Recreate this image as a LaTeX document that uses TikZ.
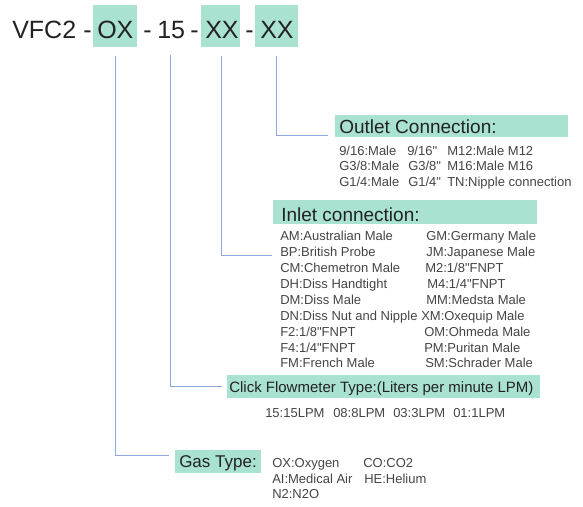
\documentclass[tikz,border=0pt]{standalone}
\usepackage{fontspec}
\setmainfont{Liberation Sans}[Ligatures=TeXOff]
\definecolor{mint}{HTML}{A9E2D1}
\definecolor{connc}{HTML}{8EA8D8}
\definecolor{txt}{HTML}{222222}
\definecolor{smalltxt}{HTML}{444444}
\tikzset{
 box/.style={fill=mint, draw=none, inner sep=0, anchor=north west},
 ttl/.style={font=\fontsize{18.75}{20}\selectfont, text=txt, inner sep=0, anchor=base west},
 head/.style={font=\fontsize{14.25}{16}\selectfont, text=txt, inner sep=0, anchor=base west},
 flowhead/.style={font=\fontsize{11.25}{13}\selectfont, text=txt, inner sep=0, anchor=base west},
 gashead/.style={font=\fontsize{12.75}{14}\selectfont, text=txt, inner sep=0, anchor=base west},
 item/.style={font=\fontsize{9.75}{11}\selectfont, text=smalltxt, inner sep=0, anchor=base west},
 link/.style={draw=connc, line width=0.75pt},
}
\begin{document}
\begin{tikzpicture}[x=0.75pt,y=-0.75pt]
\useasboundingbox (0,0) rectangle (583,507);
% title boxes
\node[box, minimum width=33pt, minimum height=31.5pt] (ox) at (93,5) {};
\node[box, minimum width=28.9pt, minimum height=31.5pt] (xa) at (201,5) {};
\node[box, minimum width=31.9pt, minimum height=31.5pt] (xb) at (255,5) {};
% title texts
\node[ttl] (t1) at (12,38.3) {VFC2};
\node[ttl] (d1) at (83,38.3) {-};
\node[ttl] (t2) at (97,38.3) {OX};
\node[ttl] (d2) at (143,38.3) {-};
\node[ttl] (t3) at (157,38.3) {15};
\node[ttl] (d3) at (190,38.3) {-};
\node[ttl] (t4) at (205,38.3) {XX};
\node[ttl] (d4) at (245,38.3) {-};
\node[ttl] (t5) at (260,38.3) {XX};
% section boxes
\node[box, minimum width=174.75pt, minimum height=16.5pt] (outb) at (335,115) {};
\node[box, minimum width=198pt, minimum height=18pt] (inb) at (273,200) {};
\node[box, minimum width=234.75pt, minimum height=17.25pt] (flb) at (227,375) {};
\node[box, minimum width=64.5pt, minimum height=17.25pt] (gasb) at (175,450) {};
% headings
\node[head] (outh) at (339,133.3) {Outlet Connection:};
\node[head] (inh) at (281,221) {Inlet connection:};
\node[flowhead] (flh) at (229,392.7) {Click Flowmeter Type:(Liters per minute LPM)};
\node[gashead] (gash) at (179,467.3) {Gas Type:};
% connectors
\coordinate (s15) at (170,55);
\coordinate (eout) at (328,135);
\coordinate (ein) at (272,255);
\coordinate (efl) at (222,386);
\coordinate (egas) at (169,455);
\draw[link] ([yshift=-6pt]xb.south) |- (eout);
\draw[link] ([yshift=-6pt,xshift=0.5pt]xa.south) |- (ein);
\draw[link] (s15) |- (efl);
\draw[link] ([yshift=-6pt]ox.south) |- (egas);
% outlet items
\node[item] (o11) at (339,155) {9/16:Male};
\node[item] (o12) at (407,155) {9/16"};
\node[item] (o13) at (447,155) {M12:Male M12};
\node[item] (o21) at (339,170.5) {G3/8:Male};
\node[item] (o22) at (408,170.5) {G3/8"};
\node[item] (o23) at (447,170.5) {M16:Male M16};
\node[item] (o31) at (339,186) {G1/4:Male};
\node[item] (o32) at (408,186) {G1/4"};
\node[item] (o33) at (447,186) {TN:Nipple connection};
% inlet items
\node[item] (i1a) at (280,240.7) {AM:Australian Male};
\node[item] (i2a) at (280,256.6) {BP:British Probe};
\node[item] (i3a) at (280,272.5) {CM:Chemetron Male};
\node[item] (i4a) at (280,288.4) {DH:Diss Handtight};
\node[item] (i5a) at (280,304.3) {DM:Diss Male};
\node[item] (i6a) at (280,320.2) {DN:Diss Nut and Nipple};
\node[item] (i7a) at (280,336.1) {F2:1/8"FNPT};
\node[item] (i8a) at (280,352) {F4:1/4"FNPT};
\node[item] (i9a) at (280,367.9) {FM:French Male};
\node[item] (i1b) at (426,240.7) {GM:Germany Male};
\node[item] (i2b) at (426,256.6) {JM:Japanese Male};
\node[item] (i3b) at (425,272.5) {M2:1/8"FNPT};
\node[item] (i4b) at (427,288.4) {M4:1/4"FNPT};
\node[item] (i5b) at (426,304.3) {MM:Medsta Male};
\node[item] (i6b) at (421,320.2) {XM:Oxequip Male};
\node[item] (i7b) at (424,336.1) {OM:Ohmeda Male};
\node[item] (i8b) at (424,352) {PM:Puritan Male};
\node[item] (i9b) at (425,367.9) {SM:Schrader Male};
% flow items
\node[item] (f1) at (265,417.3) {15:15LPM};
\node[item] (f2) at (333,417.3) {08:8LPM};
\node[item] (f3) at (393,417.3) {03:3LPM};
\node[item] (f4) at (453,417.3) {01:1LPM};
% gas items
\node[item] (g1) at (272,467.3) {OX:Oxygen};
\node[item] (g2) at (363,467.3) {CO:CO2};
\node[item] (g3) at (272,483.3) {AI:Medical Air};
\node[item] (g4) at (364,483.3) {HE:Helium};
\node[item] (g5) at (272,498.3) {N2:N2O};
\end{tikzpicture}
\end{document}
